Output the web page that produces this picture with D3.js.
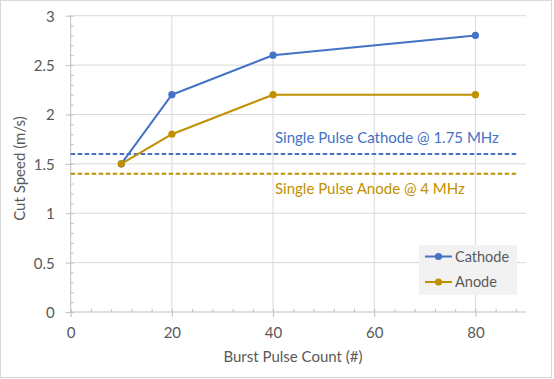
<!DOCTYPE html>
<html><head><meta charset="utf-8">
<script src="https://cdn.jsdelivr.net/npm/d3@7"></script>
<style>
html,body{margin:0;padding:0;background:#fff;}
svg text{font-family:Lato,"Open Sans",sans-serif;}
</style></head>
<body><svg id="c" width="554" height="379"></svg>
<script>
// Data
const burstCounts = [10, 20, 40, 80];
const cathodeSpeed = [1.5, 2.2, 2.6, 2.8];
const anodeSpeed = [1.5, 1.8, 2.2, 2.2];
const singlePulseCathode = 1.6;
const singlePulseAnode = 1.4;
const singlePulseXRange = [0, 88.3];
const xTicks = [0, 20, 40, 60, 80];
const yTicks = [0, 0.5, 1, 1.5, 2, 2.5, 3];
const seriesNames = ["Cathode", "Anode"];
const refLabels = ["Single Pulse Cathode @ 1.75 MHz", "Single Pulse Anode @ 4 MHz"];

const blue = "#4472C4", gold = "#BF9000";
const svg = d3.select("#c");
const L = 70.7, R = 526, T = 15.7, B = 312;
const x = d3.scaleLinear().domain([0, 90]).range([L, R]);
const y = d3.scaleLinear().domain([0, 3]).range([B, T]);

// border
svg.append("rect").attr("x",0.5).attr("y",0.5).attr("width",551).attr("height",377)
  .attr("fill","#fff").attr("stroke","#d9d9d9");

// gridlines
svg.append("g").selectAll("line").data(yTicks.filter(d=>d>0)).join("line")
  .attr("x1",L).attr("x2",R).attr("y1",d=>y(d)).attr("y2",d=>y(d))
  .attr("stroke","#d9d9d9").attr("stroke-width",1);
svg.append("g").selectAll("line").data(xTicks.filter(d=>d>0)).join("line")
  .attr("x1",d=>x(d)).attr("x2",d=>x(d)).attr("y1",T).attr("y2",B)
  .attr("stroke","#d9d9d9").attr("stroke-width",1);

// minor ticks
const yMinor = d3.range(0, 31).map(i=>i/10);
svg.append("g").attr("transform",`translate(${L},0)`)
  .call(d3.axisRight(y).tickValues(yMinor).tickSize(3).tickFormat(""))
  .call(g=>{g.select(".domain").remove(); g.selectAll("line").attr("stroke","#bfbfbf");});
const xMinor = d3.range(0, 89, 4);
svg.append("g").attr("transform",`translate(0,${B})`)
  .call(d3.axisTop(x).tickValues(xMinor).tickSize(3).tickFormat(""))
  .call(g=>{g.select(".domain").remove(); g.selectAll("line").attr("stroke","#bfbfbf");});

// axes
const yAxis = svg.append("g").attr("transform",`translate(${L},0)`)
  .call(d3.axisLeft(y).tickValues(yTicks).tickSize(5).tickPadding(11).tickFormat(d3.format("")));
const xAxis = svg.append("g").attr("transform",`translate(0,${B})`)
  .call(d3.axisBottom(x).tickValues(xTicks).tickSize(5).tickPadding(11).tickSizeOuter(0));
[yAxis, xAxis].forEach(g=>{
  g.select(".domain").attr("stroke","#bfbfbf");
  g.selectAll(".tick line").attr("stroke","#bfbfbf");
  g.selectAll(".tick text").attr("fill","#595959").style("font-size","15px").style("font-family","Lato");
});
yAxis.select(".domain").attr("d",`M0,${B}V${T}`);
yAxis.selectAll(".tick text").attr("dy","0.36em");
xAxis.selectAll(".tick text").attr("dy","0.68em");
xAxis.select(".domain").attr("d",`M${L},0H${R}`);

// axis titles
svg.append("text").attr("x",293).attr("y",361.5).attr("text-anchor","middle")
  .attr("fill","#595959").style("font-size","15px").text("Burst Pulse Count (#)");
svg.append("text").attr("transform","translate(24.5,168.5) rotate(-90)").attr("text-anchor","middle")
  .attr("fill","#595959").style("font-size","15px").text("Cut Speed (m/s)");

// reference lines
[[singlePulseCathode, blue],[singlePulseAnode, gold]].forEach(([v,c])=>{
  svg.append("line").attr("x1",x(singlePulseXRange[0])).attr("x2",x(singlePulseXRange[1]))
    .attr("y1",y(v)).attr("y2",y(v)).attr("stroke",c).attr("stroke-width",2)
    .attr("stroke-dasharray","4.5,2.5");
});
svg.append("text").attr("x",275).attr("y",142.5).attr("fill",blue).style("font-size","15px").text(refLabels[0]);
svg.append("text").attr("x",275).attr("y",193.5).attr("fill",gold).style("font-size","15px").text(refLabels[1]);

// series
const line = d3.line().x(d=>x(d[0])).y(d=>y(d[1]));
const series = [
  {name: seriesNames[0], vals: cathodeSpeed, color: blue},
  {name: seriesNames[1], vals: anodeSpeed, color: gold}
];
series.forEach(s=>{
  const pts = burstCounts.map((b,i)=>[b, s.vals[i]]);
  svg.append("path").datum(pts).attr("d",line).attr("fill","none")
    .attr("stroke",s.color).attr("stroke-width",2).attr("stroke-linejoin","round");
  svg.append("g").selectAll("circle").data(pts).join("circle")
    .attr("cx",d=>x(d[0])).attr("cy",d=>y(d[1])).attr("r",3.6).attr("fill",s.color);
});

// legend
const lg = svg.append("g");
lg.append("rect").attr("x",419).attr("y",245).attr("width",98).attr("height",50).attr("fill","#f2f2f2");
series.forEach((s,i)=>{
  const yy = 256.5 + i*25.5;
  lg.append("line").attr("x1",425).attr("x2",452).attr("y1",yy).attr("y2",yy).attr("stroke",s.color).attr("stroke-width",2);
  lg.append("circle").attr("cx",438.5).attr("cy",yy).attr("r",3.6).attr("fill",s.color);
  lg.append("text").attr("x",455).attr("y",yy).attr("dy","0.36em").attr("fill","#595959")
    .style("font-size","14.5px").text(s.name);
});
</script></body></html>
